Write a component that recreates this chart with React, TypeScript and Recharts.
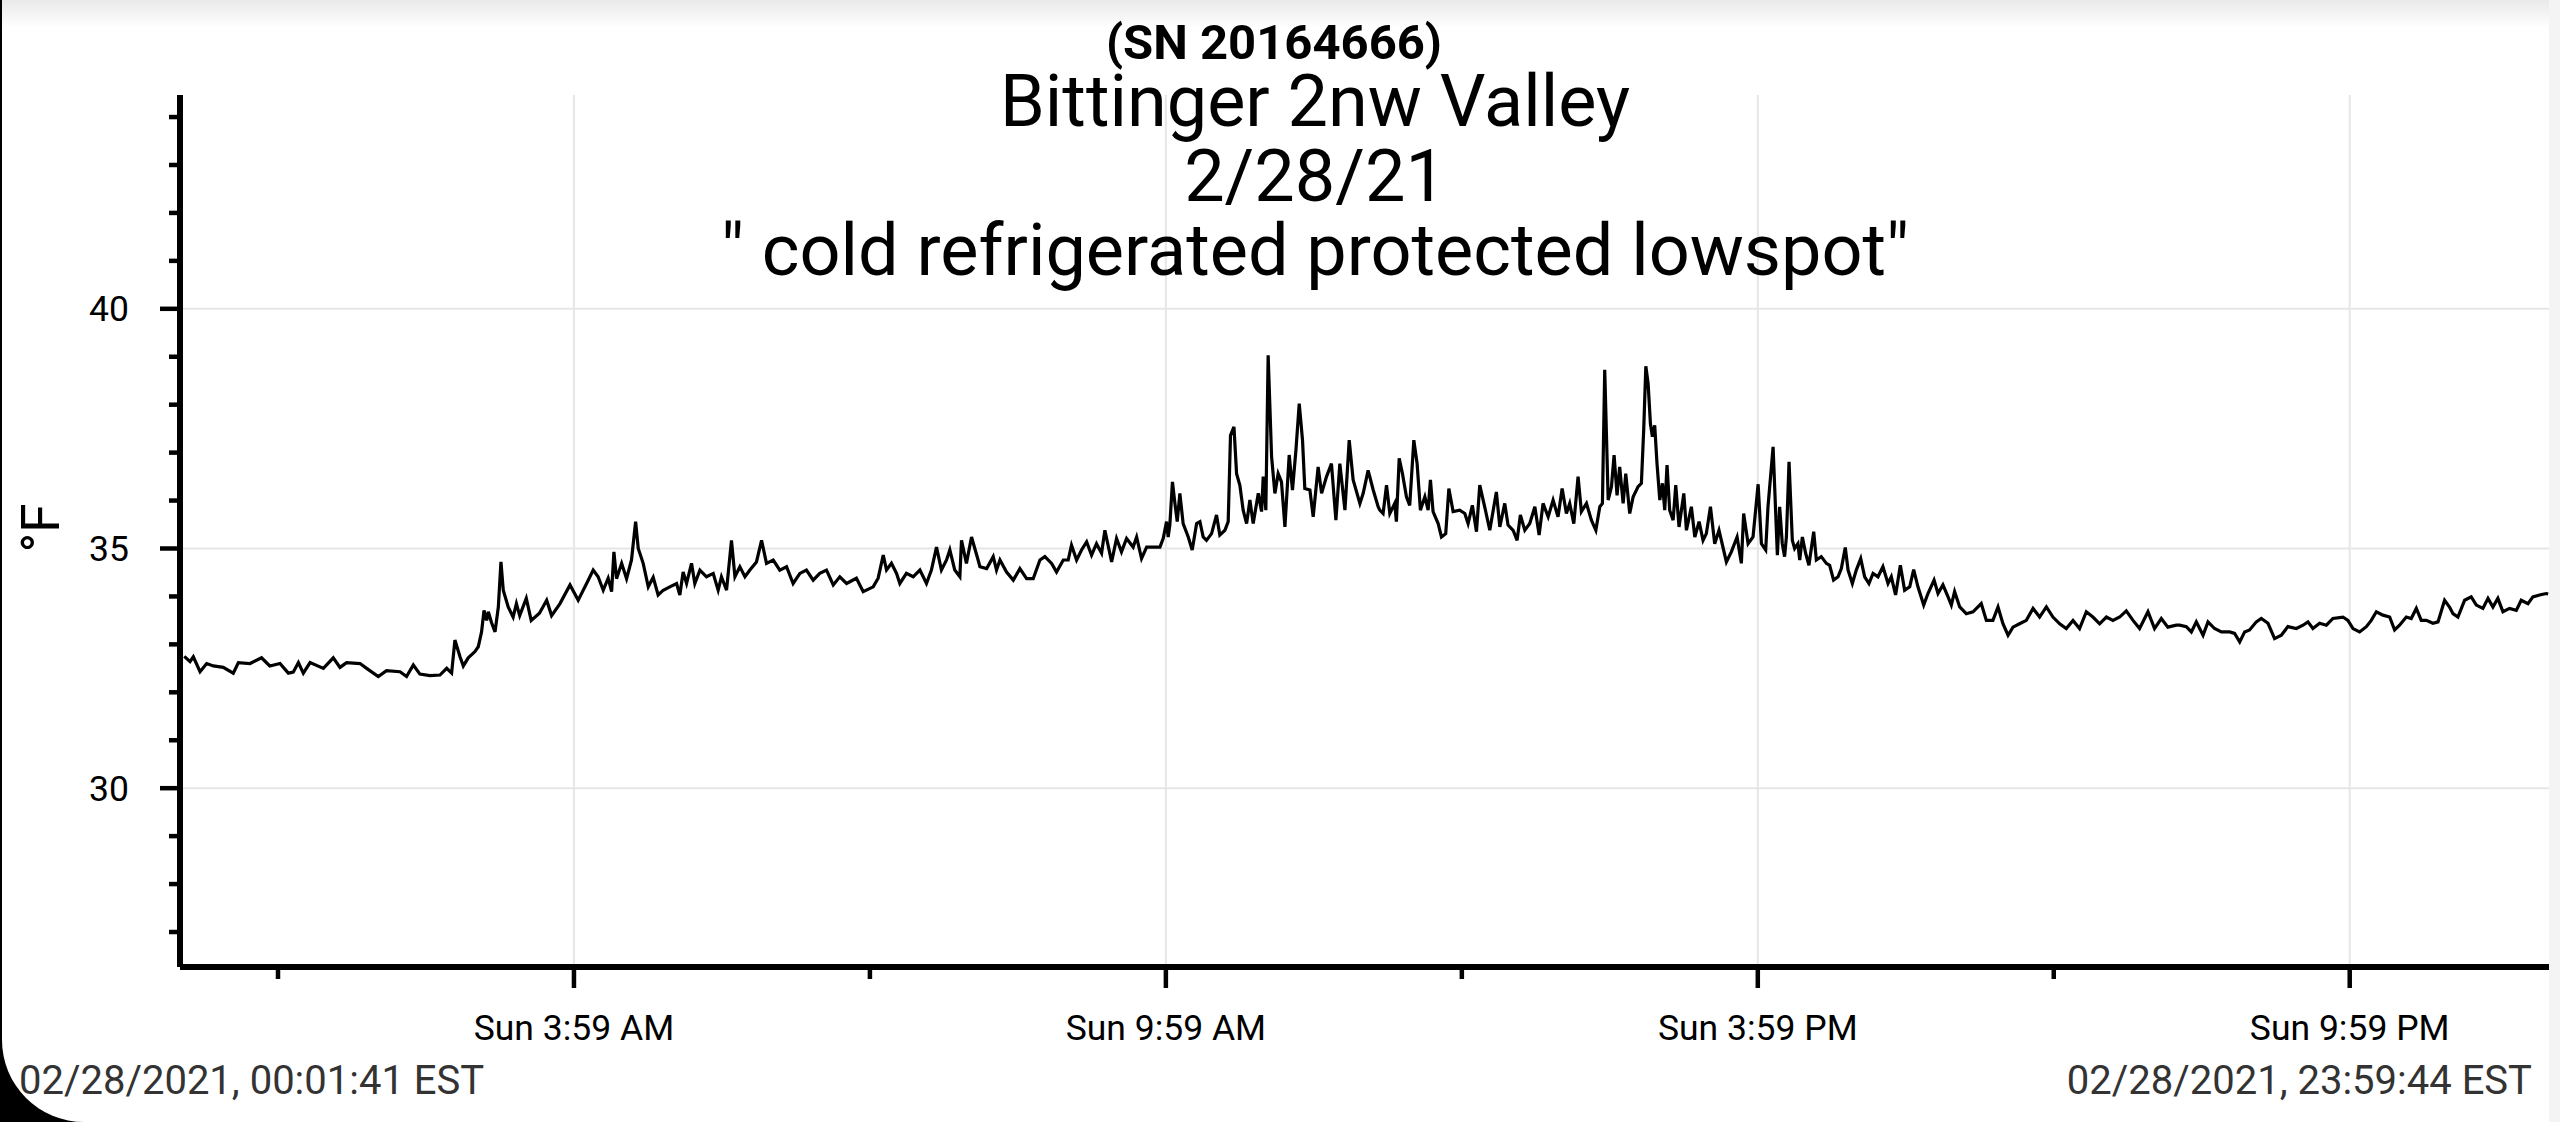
import React from 'react';
import { LineChart, Line, XAxis, YAxis, ReferenceLine } from 'recharts';

// minutes since midnight, 02/28/2021
const TIMES_MIN: number[] = [
  2, 5.5, 7.5, 11.6, 15.6, 19.7, 25.7, 31.8, 34.9, 42, 49, 54, 60.2, 65.3, 68.3, 71.4, 74.4, 78.5, 86.6, 92.6,
  96.7, 100.7, 108.9, 112.9, 120, 125, 133.2, 137.2, 141.3, 145.3, 151.4, 157.5, 161.6, 164.6, 166.6, 169.7,
  171.7, 174.7, 178.8, 180.8, 182.8, 184.3, 185.9, 186.9, 188.9, 191, 193, 194.6, 196, 199, 202, 204, 206, 210,
  213, 218, 222.4, 225.4, 230.5, 236.6, 241.6,
  242.6, 246.7, 250.7, 253.7, 256.8, 259.8, 261.9, 263.3, 264.9, 268, 271, 274, 276.5, 278.1, 281.1, 284.2,
  287.2, 290.2, 293.3, 297.3, 301.4, 303.4, 305.4, 307.5, 310.5, 312.5, 315.6, 319.6, 323.7, 326.7, 328.7,
  331.8, 334.8, 336.9, 339.9, 343, 346, 350, 353.1, 356.1, 360.2, 364.2, 368.3, 372.3, 376.4, 380.4, 384.5,
  388.5, 392.6, 396.7, 400.7, 404.8, 410.8, 414.9, 421, 424, 427.1, 429.1, 432.1, 435.2, 437.2, 441.2, 445.3,
  449.4, 453.4, 456.4, 459.5, 462.5, 465.6, 467.6, 470.6, 473.7, 474.7, 477.7, 480.8, 484.8,
  485.9, 490, 494, 496, 498.1, 502.1, 506.2, 510.2, 514.3, 518.3, 522.4, 525.4, 529.5, 532.5, 536.6, 539.6,
  541.6, 544.7, 547.7, 550.8, 553.8, 556.8, 559.9, 561.9, 566, 569, 572, 575.1, 579.1, 581.2, 584.2, 587.3,
  591.3, 595.4, 597.4, 599.4, 600.4, 601.4, 603, 604.5, 605.9, 607.5, 609.5, 612.6, 615, 617.7, 619.7, 621.7,
  623.7, 626.8, 629.8, 631.8, 634.9, 636.9, 638.3, 640.4, 642, 644, 646, 648.1, 650.1, 652.1, 655.2, 657.2,
  658.2, 659.8, 661.2, 663.3, 665.3, 667.3, 669.3, 671.4, 674, 676, 678.1, 680.1, 682.1, 683.5, 686.6, 688.6,
  691.6, 693.7, 696.7, 699.7, 702.4, 704.8, 707.9, 710.5, 712.9, 717, 719, 722, 725.1, 728.1,
  729.1, 731.1, 733.2, 735.2, 738.2, 739.2, 740.9, 742.9, 745.3, 747.3, 749.8, 751.8, 753.8, 756.5, 758.5,
  759.9, 761.5, 764.6, 766.6, 769.2, 771.1, 773.7, 777.7, 780.8, 782.8, 785.4, 787.9, 789.9, 792.9, 796, 800,
  802.1, 805.1, 807.1, 810.2, 812.6, 814.6, 817.3, 820.3, 823.4, 826, 828.4, 831.5, 834.5, 837.5, 840, 842.6,
  844.6, 847.1, 849.7, 851.7, 854.8, 857.8, 860.5, 862.9, 864.5, 865.9, 868, 870, 871.6, 873.4, 875, 877.1,
  878.7, 881.1, 883.2, 886.2, 888.2, 889.6, 890.9, 892.3, 893.7, 894.9, 896.3, 897.7, 899.4, 901, 902.4,
  903.8, 905.4, 907.5, 909.1, 911.1, 914, 915.6, 918.6, 920.7, 923.3, 925.7, 927.7, 930.2, 932.8, 935.4,
  939.9, 942.9, 946.4, 949, 950.4, 953.1, 956.1, 959.2, 961.2, 963.8, 965.2, 968.3, 970.9,
  972.3, 973.9, 975.3, 976.4, 978, 980, 981.4, 983.4, 984.5, 986.1, 988.1, 990.1, 993, 994.6, 997.6, 1000.7,
  1002.7, 1005.1, 1007.8, 1009.8, 1012.2, 1013.9, 1016.5, 1018.9, 1021.6, 1024, 1026.6, 1029.1, 1032.1,
  1035.1, 1038.2, 1040.2, 1042.8, 1045.7, 1048.3, 1051.4, 1053.8, 1056.4, 1059.9, 1062.5, 1066.2, 1068.6,
  1071.6, 1074.7, 1076.7, 1078.7, 1081.8, 1085.8, 1089.9, 1094.9, 1098, 1102, 1105.1, 1108.1, 1111.2, 1114.2,
  1118.2, 1122.3, 1126.4, 1130.4, 1134.5, 1138.5, 1142.6, 1146.6, 1150.7, 1154.7, 1158.8, 1162.8, 1166.9,
  1171, 1175, 1179.1, 1183.1, 1187.2, 1191.2, 1196.3, 1200.3, 1204.4, 1208.4, 1213.5,
  1215.6, 1219.6, 1222.7, 1225.7, 1229.8, 1232.8, 1236.8, 1240.9, 1246, 1249, 1252.1, 1255.1, 1258.1, 1262.2,
  1265.2, 1269.3, 1273.3, 1277.4, 1281.4, 1286.5, 1290.6, 1293.6, 1296.6, 1300.7, 1304.8, 1308.8, 1314.9,
  1317.9, 1321, 1325, 1329.1, 1332.1, 1335.2, 1339.2, 1343.3, 1346.3, 1349.3, 1353.4, 1356.4, 1359.5, 1362.5,
  1365.6, 1369.6, 1372.7, 1376.7, 1379.7, 1381.8, 1384.8, 1388.9, 1392.9, 1396, 1400, 1403.1, 1406.1, 1409.1,
  1412.2, 1416.2, 1420.3, 1423.3, 1427.4, 1430.4, 1434.5, 1438.5, 1439.7,
];

// temperature, °F
const TEMP_F: number[] = [
  32.75, 32.64, 32.74, 32.43, 32.6, 32.55, 32.52, 32.4, 32.62, 32.6, 32.72, 32.55, 32.6, 32.4, 32.42, 32.62, 32.4, 32.62, 32.5, 32.72,
  32.52, 32.62, 32.6, 32.5, 32.33, 32.45, 32.43, 32.33, 32.57, 32.38, 32.35, 32.36, 32.5, 32.4, 33.09, 32.74,
  32.55, 32.72, 32.85, 32.95, 33.26, 33.71, 33.5, 33.68, 33.45, 33.26, 33.78, 34.72, 34.13, 33.78, 33.57, 33.85, 33.6, 33.96,
  33.5, 33.65, 33.92, 33.6, 33.85, 34.24, 33.92,
  33.99, 34.27, 34.55, 34.41, 34.13, 34.38, 34.1, 34.93, 34.37, 34.69, 34.37, 34.76, 35.56, 35.0, 34.69, 34.2,
  34.4, 34.03, 34.13, 34.2, 34.27, 34.03, 34.51, 34.27, 34.69, 34.27, 34.55, 34.41, 34.48, 34.13, 34.41,
  34.13, 35.17, 34.41, 34.62, 34.41, 34.55, 34.72, 35.17, 34.69, 34.76, 34.55, 34.62, 34.27, 34.48, 34.55, 34.34,
  34.48, 34.55, 34.24, 34.41, 34.27, 34.38, 34.1, 34.2, 34.38, 34.86, 34.55, 34.69, 34.48, 34.27, 34.48, 34.41,
  34.55, 34.27, 34.55, 35.03, 34.55, 34.76, 34.97, 34.55, 34.41, 35.17, 34.69, 35.24, 34.76,
  34.62, 34.58, 34.83, 34.55, 34.76, 34.51, 34.34, 34.58, 34.37, 34.37, 34.76, 34.83, 34.69, 34.51, 34.76, 34.76,
  35.07, 34.76, 34.97, 35.14, 34.86, 35.1, 34.9, 35.38, 34.72, 35.21, 34.93, 35.21, 35.03, 35.24, 34.79, 35.03,
  35.03, 35.03, 35.21, 35.56, 35.24, 35.49, 36.39, 35.94, 35.56, 36.15, 35.52, 35.24, 34.97, 35.52, 35.56, 35.24,
  35.17, 35.31, 35.7, 35.28, 35.38, 35.56, 37.36, 37.54, 36.56, 36.32, 35.8, 35.52, 36.01, 35.52, 36.15, 35.77,
  36.5, 35.8, 39.03, 36.91, 36.15, 36.56, 36.39, 35.45, 36.95, 36.22, 37.05, 38.02, 37.26, 36.25, 36.22, 35.66,
  36.7, 36.15, 36.5, 36.77, 35.59, 36.77, 35.8, 37.26, 36.43, 35.94, 36.15, 36.63, 36.22, 35.87,
  35.8, 35.73, 36.32, 35.73, 35.94, 35.56, 36.88, 36.56, 36.08, 35.9, 37.26, 36.77, 35.8, 36.08, 35.8,
  36.43, 35.77, 35.52, 35.24, 35.31, 36.25, 35.77, 35.8, 35.73, 35.52, 35.9, 35.35, 36.32, 35.87, 35.38, 36.18,
  35.45, 35.94, 35.49, 35.38, 35.17, 35.7, 35.38, 35.52, 35.87, 35.28, 35.94, 35.66, 36.01, 35.66, 36.25, 35.73,
  35.94, 35.52, 36.5, 35.77, 35.94, 35.59, 35.38, 35.87, 35.94, 38.73, 36.01, 36.29, 36.95, 36.11, 36.7, 35.94,
  36.56, 35.73, 36.08, 36.29, 36.36, 37.47, 38.8, 38.44, 37.6, 37.33, 37.57, 36.77, 36.01, 36.36, 35.8,
  36.74, 35.8, 35.59, 36.32, 35.45, 36.15, 35.38, 35.87, 35.24, 35.56, 35.17, 35.31, 35.87, 35.1, 35.38,
  34.72, 34.93, 35.24, 34.69, 35.73, 35.1, 35.24, 36.34, 35.1, 34.97, 35.87, 37.12, 34.86,
  35.87, 35.1, 34.83, 35.24, 36.81, 35.17, 35.0, 35.1, 34.76, 35.24, 34.9, 34.65, 35.35, 34.76, 34.83, 34.69,
  34.65, 34.34, 34.41, 34.58, 35.02, 34.55, 34.27, 34.55, 34.79, 34.41, 34.27, 34.48, 34.41,
  34.62, 34.27, 34.41, 34.03, 34.65, 34.13, 34.2, 34.56, 34.2, 33.82, 34.06, 34.34, 34.06,
  34.24, 33.99, 33.82, 34.1, 33.78, 33.64, 33.68, 33.85, 33.5, 33.5, 33.78, 33.43, 33.19, 33.36,
  33.43, 33.5, 33.75, 33.57, 33.78, 33.57, 33.43, 33.33, 33.5, 33.33, 33.68, 33.57, 33.43,
  33.57, 33.5, 33.57, 33.7, 33.5, 33.33, 33.68, 33.33, 33.54, 33.36, 33.4,
  33.4, 33.37, 33.26, 33.47, 33.19, 33.47, 33.33, 33.26, 33.26, 33.23, 33.05, 33.26, 33.3, 33.47,
  33.54, 33.44, 33.12, 33.19, 33.37, 33.33, 33.4, 33.47, 33.33, 33.44, 33.4, 33.54, 33.57,
  33.5, 33.33, 33.26, 33.37, 33.5, 33.68, 33.61, 33.57, 33.3, 33.4, 33.57, 33.54, 33.75, 33.5,
  33.5, 33.44, 33.47, 33.92, 33.78, 33.64, 33.57, 33.92, 33.99, 33.82, 33.75, 33.96, 33.78, 33.96,
  33.68, 33.75, 33.71, 33.92, 33.85, 33.99, 34.03, 34.06, 34.05,
];

const X_TICKS: number[] = [59, 239, 419, 599, 779, 959, 1139, 1319];
const X_MAJOR: number[] = [239, 599, 959, 1319];
const X_LABELS: string[] = ['Sun 3:59 AM', 'Sun 9:59 AM', 'Sun 3:59 PM', 'Sun 9:59 PM'];
const Y_TICKS: number[] = [27, 28, 29, 30, 31, 32, 33, 34, 35, 36, 37, 38, 39, 40, 41, 42, 43, 44];
const Y_MAJOR: number[] = [30, 35, 40];

const TITLE_SN = '(SN 20164666)';
const TITLE_LINES: string[] = ['Bittinger 2nw Valley', '2/28/21', '" cold refrigerated protected lowspot"'];
const Y_LABEL = '°F';
const START_STAMP = '02/28/2021, 00:01:41 EST';
const END_STAMP = '02/28/2021, 23:59:44 EST';

const FONT = 'Roboto, "Noto Sans", sans-serif';

const data = TIMES_MIN.map((t, i) => ({ t, v: TEMP_F[i] }));

const XTick = (props: any) => {
  const { x, y, payload } = props;
  const idx = X_MAJOR.indexOf(payload.value);
  const major = idx >= 0;
  return (
    <g>
      <line x1={x} x2={x} y1={y} y2={y + (major ? 21 : 12)} stroke="#000" strokeWidth={4.5} />
      {major && (
        <text x={x} y={y + 73} textAnchor="middle" fontSize={35.5} fontFamily={FONT} fill="#000">
          {X_LABELS[idx]}
        </text>
      )}
    </g>
  );
};

const YTick = (props: any) => {
  const { x, y, payload } = props;
  const major = Y_MAJOR.includes(payload.value);
  return (
    <g>
      <line x1={x - (major ? 20 : 11)} x2={x} y1={y} y2={y} stroke="#000" strokeWidth={4.5} />
      {major && (
        <text x={x - 51} y={y + 12.5} textAnchor="end" fontSize={35.5} fontFamily={FONT} fill="#000">
          {payload.value}
        </text>
      )}
    </g>
  );
};

export default function App() {
  return (
    <div style={{ position: 'fixed', left: 0, top: 0, width: 2560, height: 1122, background: '#000', overflow: 'hidden' }}>
      <div
        style={{
          position: 'absolute', left: 2, top: 0, right: 0, bottom: 0, background: '#fff',
          borderBottomLeftRadius: 82,
        }}
      />
      <div
        style={{
          position: 'absolute', left: 2, top: 0, right: 0, height: 28,
          background: 'linear-gradient(#e9e9e9, #ffffff)',
        }}
      />
      <div style={{ position: 'absolute', left: 2549, top: 0, width: 11, height: 1122, background: '#f4f4f4' }} />
      <div style={{ position: 'absolute', left: 0, top: 0 }}>
        <LineChart width={2560} height={1122} data={data} margin={{ top: 95, right: 11, bottom: 0, left: 0 }}>
          <ReferenceLine y={30} stroke="#e6e6e6" strokeWidth={2} />
          <ReferenceLine y={35} stroke="#e6e6e6" strokeWidth={2} />
          <ReferenceLine y={40} stroke="#e6e6e6" strokeWidth={2} />
          {X_MAJOR.map((m) => (
            <ReferenceLine key={m} x={m} stroke="#e6e6e6" strokeWidth={2} />
          ))}
          <XAxis
            type="number"
            dataKey="t"
            domain={[-0.6, 1440.2]}
            allowDataOverflow
            ticks={X_TICKS}
            interval={0}
            height={155}
            tickSize={0}
            tickMargin={0}
            tickLine={false}
            axisLine={{ stroke: '#000', strokeWidth: 6 }}
            tick={(p: any) => <XTick {...p} />}
          />
          <YAxis
            type="number"
            domain={[26.27, 44.46]}
            allowDataOverflow
            ticks={Y_TICKS}
            interval={0}
            width={180}
            tickSize={0}
            tickMargin={0}
            tickLine={false}
            axisLine={{ stroke: '#000', strokeWidth: 6 }}
            tick={(p: any) => <YTick {...p} />}
          />
          <Line
            type="linear"
            dataKey="v"
            stroke="#000"
            strokeWidth={3.2}
            strokeLinejoin="miter"
            dot={false}
            isAnimationActive={false}
          />
        </LineChart>
      </div>
      <svg width={2560} height={1122} style={{ position: 'absolute', left: 0, top: 0, pointerEvents: 'none' }}>
        <text x={1274} y={59} textAnchor="middle" fontSize={49} fontWeight="bold" fontFamily={FONT} fill="#000">
          {TITLE_SN}
        </text>
        {TITLE_LINES.map((line, i) => (
          <text key={i} x={1315} y={126 + i * 74.5} textAnchor="middle" fontSize={72} fontFamily={FONT} fill="#000">
            {line}
          </text>
        ))}
        <text
          x={0}
          y={0}
          transform="translate(59,528) rotate(-90)"
          textAnchor="middle"
          fontSize={53}
          fontFamily={FONT}
          fill="#000"
        >
          {Y_LABEL}
        </text>
        <text x={19} y={1094} fontSize={40} fontFamily={FONT} fill="#333">
          {START_STAMP}
        </text>
        <text x={2532} y={1094} textAnchor="end" fontSize={40} fontFamily={FONT} fill="#333">
          {END_STAMP}
        </text>
      </svg>
    </div>
  );
}
